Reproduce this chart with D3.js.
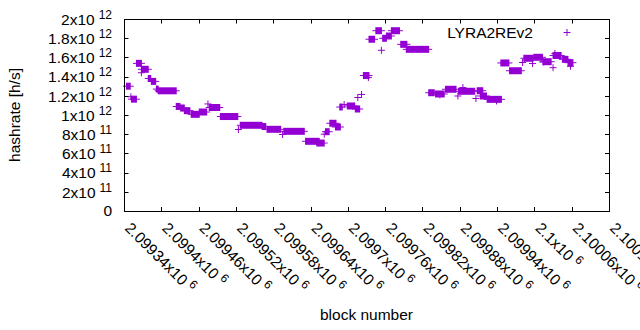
<!DOCTYPE html>
<html><head><meta charset="utf-8">
<style>
body { margin: 0; background: #fff; }
text { font-family: "Liberation Sans", Arial, sans-serif; fill: #000; }
</style>
</head><body><svg width="640" height="330"></svg>
<script src="https://cdn.jsdelivr.net/npm/d3@7/dist/d3.min.js"></script>
<script>

// runs of consecutive blocks that share one hashrate value (units of 10^12 h/s)
var runStart = [2099344,2099351,2099352,2099360,2099368,2099368,2099379,2099384,2099392,2099395,
  2099424,2099431,2099437,2099448,2099461,2099475,2099477,2099495,2099524,2099527,
  2099562,2099570,2099595,2099597,2099632,2099650,2099662,2099664,2099671,2099680,
  2099687,2099694,2099699,2099712,2099716,2099722,2099725,2099733,2099734,2099745,
  2099754,2099756,2099762,2099770,2099785,2099794,2099830,2099841,2099848,2099857,
  2099877,2099878,2099885,2099906,2099908,2099913,2099924,2099939,2099946,2099960,
  2099981,2099983,2099997,2099999,2100014,2100014,2100030,2100030,2100033,2100045,
  2100054,2100058];
var runEnd = [2099350,2099351,2099360,2099368,2099368,2099379,2099383,2099391,2099395,2099424,
  2099430,2099437,2099446,2099461,2099473,2099475,2099494,2099523,2099524,2099562,
  2099568,2099592,2099595,2099630,2099654,2099662,2099662,2099670,2099681,2099688,
  2099691,2099694,2099711,2099719,2099716,2099722,2099734,2099733,2099743,2099754,
  2099754,2099762,2099770,2099783,2099795,2099830,2099839,2099855,2099848,2099874,
  2099877,2099904,2099885,2099906,2099917,2099923,2099947,2099939,2099959,2099979,
  2099981,2099998,2099997,2100013,2100014,2100027,2100030,2100043,2100033,2100054,
  2100062,2100058];
var runHash = [1.30,1.19,1.165,1.538,1.44,1.476,1.38,1.35,1.27,1.252,
  1.089,1.073,1.045,1.007,1.031,1.115,1.078,0.984,0.849,0.893,
  0.880,0.851,0.797,0.830,0.726,0.708,0.80,0.826,0.914,0.875,
  1.083,1.109,1.094,1.0625,1.182,1.214,1.411,1.39,1.789,1.878,
  1.674,1.799,1.823,1.878,1.736,1.684,1.232,1.219,1.21,1.268,
  1.198,1.247,1.286,1.172,1.253,1.198,1.163,1.146,1.542,1.461,
  1.547,1.591,1.536,1.601,1.552,1.555,1.493,1.620,1.641,1.580,
  1.545,1.507];

var xTicks = [2099340,2099400,2099460,2099520,2099580,2099640,2099700,2099760,2099820,2099880,2099940,2100000,2100060,2100120];
var xTickMant = ["2.09934","2.0994","2.09946","2.09952","2.09958","2.09964","2.0997","2.09976","2.09982","2.09988","2.09994","2.1","2.10006","2.10012"];
var yTicks = [0,0.2,0.4,0.6,0.8,1.0,1.2,1.4,1.6,1.8,2.0];
var yTickMant = ["0","2","4","6","8","1","1.2","1.4","1.6","1.8","2"];
var yTickExp = ["","11","11","11","11","12","12","12","12","12","12"];

var seriesName = "LYRA2REv2";
var purple = "#9400d3";

var pL = 124, pR = 609, pT = 19, pB = 211;

var x = d3.scaleLinear().domain([2099340, 2100120]).range([pL, pR]);
var y = d3.scaleLinear().domain([0, 2]).range([pB, pT]);

var svg = d3.select("svg");

// points: each block drawn as a "+", consecutive ones merge into a bar
var runs = runStart.map(function(s, i) { return {s: s, e: runEnd[i], v: runHash[i]}; });
var g = svg.append("g");
g.selectAll("rect.run").data(runs).enter().append("rect")
    .attr("x", function(d) { return x(d.s) - 0.5; })
    .attr("width", function(d) { return x(d.e) - x(d.s) + 1; })
    .attr("y", function(d) { return y(d.v) - 3.5; })
    .attr("height", 7)
    .attr("fill", purple);
g.selectAll("line.run").data(runs).enter().append("line")
    .attr("x1", function(d) { return x(d.s) - 3.5; })
    .attr("x2", function(d) { return x(d.e) + 3.5; })
    .attr("y1", function(d) { return y(d.v); })
    .attr("y2", function(d) { return y(d.v); })
    .attr("stroke", purple)
    .attr("stroke-width", 1);

// border + ticks
svg.append("rect")
    .attr("x", pL + 0.5).attr("y", pT + 0.5)
    .attr("width", pR - pL).attr("height", pB - pT)
    .attr("fill", "none").attr("stroke", "#000").attr("stroke-width", 1);

var ticks = svg.append("g").attr("stroke", "#000").attr("stroke-width", 1);
yTicks.forEach(function(t) {
  var yy = Math.round(y(t)) + 0.5;
  ticks.append("line").attr("x1", pL).attr("x2", pL + 4.5).attr("y1", yy).attr("y2", yy);
  ticks.append("line").attr("x1", pR - 4).attr("x2", pR + 0.5).attr("y1", yy).attr("y2", yy);
});
xTicks.forEach(function(t) {
  var xx = Math.round(x(t)) + 0.5;
  ticks.append("line").attr("x1", xx).attr("x2", xx).attr("y1", pB + 0.5).attr("y2", pB - 4);
  ticks.append("line").attr("x1", xx).attr("x2", xx).attr("y1", pT).attr("y2", pT + 4.5);
});

// y tick labels
yTicks.forEach(function(t, i) {
  var txt = svg.append("text")
      .attr("x", 112)
      .attr("y", y(t) + (yTickExp[i] ? 5.8 : 4.5))
      .attr("text-anchor", "end")
      .style("font-size", "15.5px");
  if (yTickExp[i]) {
    txt.append("tspan").text(yTickMant[i] + "x10");
    txt.append("tspan").attr("dx", 4).attr("dy", -6).style("font-size", "12px").text(yTickExp[i]);
  } else {
    txt.text(yTickMant[i]);
  }
});

// x tick labels, rotated
xTicks.forEach(function(t, i) {
  var txt = svg.append("text")
      .attr("transform", "translate(" + x(t) + "," + 229 + ") rotate(45)")
      .style("font-size", "15.5px");
  txt.append("tspan").text(xTickMant[i] + "x10");
  txt.append("tspan").attr("dx", 4).attr("dy", -6).style("font-size", "12px").text("6");
});

// axis titles
svg.append("text")
    .attr("x", (pL + pR) / 2).attr("y", 320)
    .attr("text-anchor", "middle")
    .style("font-size", "15.5px")
    .text("block number");
svg.append("text")
    .attr("transform", "translate(20," + ((pT + pB) / 2) + ") rotate(-90)")
    .attr("text-anchor", "middle")
    .style("font-size", "15.5px")
    .text("hashrate [h/s]");

// key
svg.append("text")
    .attr("x", 533).attr("y", 37.5)
    .attr("text-anchor", "end")
    .style("font-size", "15.5px")
    .text(seriesName);
svg.append("path")
    .attr("d", "M563.5,32.5h7M567,29v7")
    .attr("stroke", purple).attr("stroke-width", 1);

</script>
</body></html>
